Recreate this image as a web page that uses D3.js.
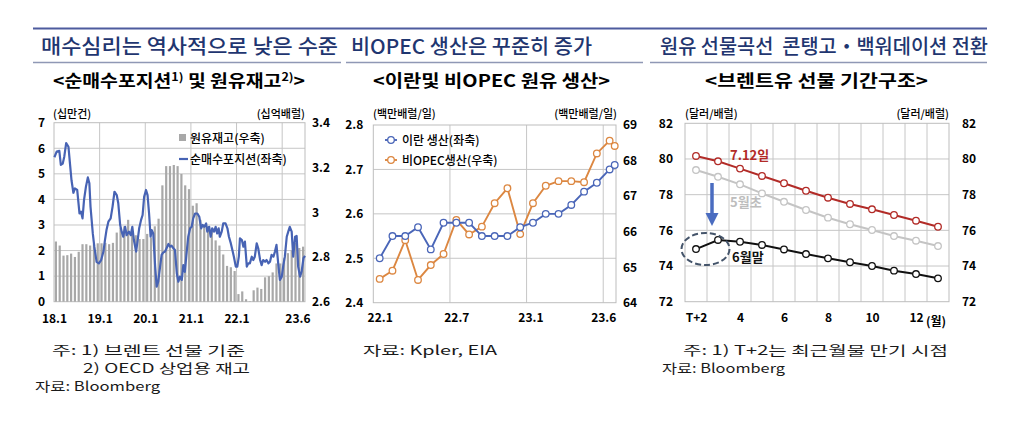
<!DOCTYPE html>
<html><head><meta charset="utf-8">
<script src="https://cdn.jsdelivr.net/npm/d3@7"></script>
<style>
body{margin:0;background:#fff}
svg{display:block}
text{font-family:"Noto Sans CJK KR","Noto Sans",sans-serif;white-space:pre}
</style>
</head><body>
<svg id="c" width="1024" height="424"></svg>
<script>
// ---------------- DATA ----------------
// Panel 1: OECD commercial crude inventory (billion bbl, right axis), monthly 2018.1 - 2023.6
const invValues = [
 2.869,2.851,2.806,2.808,2.815,2.800,2.823,2.857,2.857,2.851,2.857,2.861,
 2.861,2.863,2.857,2.863,2.909,2.931,2.937,2.966,2.926,2.897,2.880,2.880,
 2.903,2.886,2.937,2.971,3.120,3.206,3.206,3.211,3.206,3.171,3.120,3.103,
 3.029,3.040,2.966,2.943,2.937,2.914,2.874,2.851,2.811,2.760,2.754,2.737,
 2.634,2.646,2.611,2.602,2.651,2.663,2.657,2.709,2.714,2.731,2.771,2.771,
 2.794,2.817,2.829,2.863,2.840,2.846];
// Net long position (100k contracts, left axis): time in months since 2018.1
const nlT = [0.1,0.7,1.4,1.8,2.3,2.7,3.2,3.8,4.2,4.6,5.1,5.5,6.1,6.7,7.1,7.5,7.9,8.4,8.9,9.3,
 9.6,10.2,10.6,11.2,11.8,12.4,13.0,13.4,13.8,14.3,14.9,15.4,15.9,16.5,16.9,17.4,17.8,18.2,18.7,19.1,
 19.7,20.2,20.6,21.0,21.6,22.0,22.4,22.9,23.3,23.7,24.2,24.6,25.0,25.4,25.7,26.1,26.6,27.0,27.4,27.9,
 28.3,28.7,29.2,29.6,30.1,30.5,30.9,31.4,31.8,32.3,32.7,33.1,33.6,34.0,34.4,34.9,35.3,35.8,36.2,36.6,
 37.1,37.7,38.2,38.7,39.1,39.5,40.0,40.3,40.8,41.2,41.6,42.1,42.5,42.9,43.3,43.6,44.1,44.5,45.1,45.6,
 46.0,46.5,46.9,47.3,47.8,48.2,48.6,48.9,49.4,49.8,50.2,50.7,51.1,51.5,52.0,52.4,52.8,53.3,53.7,54.2,
 54.6,55.0,55.5,55.9,56.4,56.8,57.2,57.7,58.1,58.5,59.0,59.4,59.9,60.3,60.7,61.2,61.6,62.0,62.5,62.9,
 63.4,63.8,64.2,64.7,65.1,65.6,66.0];
const nlV = [5.65,5.87,5.9,5.35,5.4,5.67,6.2,6.06,5.4,4.75,4.26,4.43,4.37,3.45,3.52,3.26,3.98,4.5,4.86,4.63,
 3.72,2.67,2.15,1.56,1.5,1.63,1.96,2.41,2.8,3.13,3.26,3.72,4.3,4.17,3.85,3.0,2.74,2.54,2.93,2.6,
 2.74,2.6,2.93,2.41,1.96,2.41,2.87,3.2,3.39,4.1,4.37,4.17,3.45,2.54,2.8,2.67,1.37,0.59,0.78,1.37,
 1.83,1.92,1.96,2.09,2.26,2.15,2.19,2.09,2.02,1.1,0.78,0.98,0.85,1.43,1.17,1.96,2.54,2.87,2.93,3.26,
 3.45,3.45,3.32,2.87,3.0,2.93,3.06,2.74,2.93,2.54,2.87,2.74,2.93,2.67,2.87,2.54,2.74,3.06,3.06,2.87,
 2.54,2.28,2.02,1.76,1.37,1.37,1.76,2.48,2.41,2.15,2.35,1.37,1.5,1.5,1.76,1.63,1.76,2.28,2.09,1.63,
 1.43,1.63,1.56,1.63,1.5,1.56,1.83,1.76,1.96,2.22,1.43,0.85,0.98,1.43,1.76,2.54,2.74,2.93,2.74,1.76,
 2.54,2.57,1.37,0.98,1.17,1.7,1.79];
const p1XLabels = ["18.1","19.1","20.1","21.1","22.1","23.6"];
const p1XLabelPos = [0,12,24,36,48,64];
const p1YearLines = [12,24,36,48,60];
const p1LeftTicks = [0,1,2,3,4,5,6,7];
const p1RightTicks = [2.6,2.8,3.0,3.2,3.4];

// Panel 2: Iran production (left, mb/d) and non-OPEC production (right, mb/d), monthly from 22.1
const p2T = [0,1,2,3,4,5,6,7,8,9,10,11,12,13,14,15,16,17,18,18.4];
const iranProd = [2.50,2.55,2.55,2.57,2.52,2.58,2.58,2.58,2.55,2.55,2.55,2.57,2.58,2.60,2.60,2.62,2.65,2.67,2.70,2.71];
const nonOpecProd = [64.67,64.90,65.76,64.64,65.06,65.37,66.33,65.92,66.14,66.80,67.22,65.93,66.80,67.29,67.42,67.42,67.39,68.20,68.56,68.41];
const p2XLabels = ["22.1","22.7","23.1","23.6"];
const p2XLabelPos = [0,6,11.8,17.5];
const p2Bounds = [5.5,11.5,17.5];
const p2LeftTicks = [2.4,2.5,2.6,2.7,2.8];
const p2RightTicks = [64,65,66,67,68,69];

// Panel 3: Brent futures term structure ($/bbl), maturities T+2 .. 13
const p3Cats = ["T+2","3","4","5","6","7","8","9","10","11","12","13"];
const curveJul12 = [80.17,79.87,79.46,79.05,78.64,78.22,77.83,77.48,77.18,76.86,76.54,76.20];
const curveMayEarly = [79.38,79.00,78.58,78.07,77.60,77.14,76.71,76.34,76.02,75.68,75.42,75.12];
const curveJunEnd = [74.95,75.46,75.36,75.18,74.93,74.67,74.43,74.21,74.00,73.74,73.55,73.31];
const p3XLabels = ["T+2","4","6","8","10","12"];
const p3Ticks = [72,74,76,78,80,82];

// ---------------- DRAW ----------------
const svg = d3.select("#c");
const GRID = "#c6c6c6";

function T(x, y, s, o = {}) {
  const t = svg.append("text").attr("x", x).attr("y", y)
    .style("font-size", (o.size || 12) + "px").style("font-weight", o.w || 400)
    .attr("fill", o.c || "#000").attr("text-anchor", o.a || "start").text(s);
  if (o.len) t.attr("textLength", o.len).attr("lengthAdjust", "spacingAndGlyphs");
  return t;
}

// header rules
svg.append("line").attr("x1", 33).attr("x2", 987).attr("y1", 28.5).attr("y2", 28.5)
  .attr("stroke", "#4d5b9e").attr("stroke-width", 2);
[[33, 341], [346, 643], [650, 987]].forEach(s =>
  svg.append("line").attr("x1", s[0]).attr("x2", s[1]).attr("y1", 62.5).attr("y2", 62.5)
    .attr("stroke", "#8f98b5").attr("stroke-width", 1.3));

// titles
const TC = "#1f3670";
T(41, 54, "매수심리는 역사적으로 낮은 수준", {size: 20, w: 500, c: TC, len: 297});
T(351, 54, "비OPEC 생산은 꾸준히 증가", {size: 20, w: 500, c: TC, len: 241});
T(660, 54, "원유 선물곡선  콘탱고・백워데이션 전환", {size: 20, w: 500, c: TC, len: 328});

// subtitles
{
  const t = svg.append("text").attr("x", 53).attr("y", 87).style("font-size", "17px").style("font-weight", 700)
    .attr("textLength", 252).attr("lengthAdjust", "spacingAndGlyphs");
  t.append("tspan").text("<순매수포지션");
  t.append("tspan").attr("dy", -6).style("font-size", "11px").text("1)");
  t.append("tspan").attr("dy", 6).text(" 및 원유재고");
  t.append("tspan").attr("dy", -6).style("font-size", "11px").text("2)");
  t.append("tspan").attr("dy", 6).text(">");
}
T(373, 87, "<이란및 비OPEC 원유 생산>", {size: 17, w: 700, len: 237});
T(705, 87, "<브렌트유 선물 기간구조>", {size: 17, w: 700, len: 223});

function styleAxisText(g, anchor) {
  g.select(".domain").remove();
  g.selectAll("line").remove();
  g.selectAll("text").style("font-size", "12px").style("font-weight", 700).attr("fill", "#000");
  if (anchor) g.selectAll("text").attr("text-anchor", anchor);
}
function frame(L, R, Tp, B) {
  svg.append("rect").attr("x", L).attr("y", Tp).attr("width", R - L).attr("height", B - Tp)
    .attr("fill", "none").attr("stroke", "#bdbdbd").attr("stroke-width", 1);
}

// ===== Panel 1 =====
{
  const L = 54, R = 305, Tp = 122.7, B = 301.7;
  const x = d3.scaleLinear([0, 66], [L, R]);
  const yL = d3.scaleLinear([0, 7], [B, Tp]);
  const yR = d3.scaleLinear([2.6, 3.4], [B, Tp]);
  const gg = svg.append("g");
  gg.selectAll(".h").data(p1LeftTicks.slice(1, -1)).join("line")
    .attr("x1", L).attr("x2", R).attr("y1", d => yL(d)).attr("y2", d => yL(d)).attr("stroke", GRID);
  gg.selectAll(".v").data(p1YearLines).join("line")
    .attr("x1", d => x(d)).attr("x2", d => x(d)).attr("y1", Tp).attr("y2", B).attr("stroke", GRID);
  frame(L, R, Tp, B);
  svg.append("g").selectAll("rect").data(invValues).join("rect")
    .attr("x", (d, i) => x(i + 0.5) - 1.1).attr("width", 2.2)
    .attr("y", d => yR(d)).attr("height", d => B - yR(d)).attr("fill", "#a8a8a8");
  const line = d3.line().x(d => x(d[0])).y(d => yL(d[1]));
  svg.append("path").datum(nlT.map((t, i) => [t, nlV[i]])).attr("d", line)
    .attr("fill", "none").attr("stroke", "#4763b4").attr("stroke-width", 2.2).attr("stroke-linejoin", "round");
  svg.append("g").attr("transform", `translate(${L},0)`)
    .call(d3.axisLeft(yL).tickValues(p1LeftTicks).tickSize(0).tickPadding(9).tickFormat(d3.format("d")))
    .call(g => styleAxisText(g));
  svg.append("g").attr("transform", `translate(${R},0)`)
    .call(d3.axisRight(yR).tickValues(p1RightTicks).tickSize(0).tickPadding(7).tickFormat(d => String(+d.toFixed(1))))
    .call(g => styleAxisText(g));
  svg.append("g").attr("transform", `translate(0,${B})`)
    .call(d3.axisBottom(x).tickValues(p1XLabelPos).tickSize(0).tickPadding(13).tickFormat((d, i) => p1XLabels[i]))
    .call(g => styleAxisText(g));
  T(53, 118, "(십만건)", {size: 11, w: 500});
  T(305, 118, "(십억배럴)", {size: 11, w: 500, a: "end"});
  // legend
  svg.append("rect").attr("x", 179).attr("y", 134).attr("width", 7).attr("height", 7).attr("fill", "#a8a8a8");
  T(190, 142.5, "원유재고(우축)", {size: 12, w: 500});
  svg.append("line").attr("x1", 179).attr("x2", 188).attr("y1", 159).attr("y2", 159)
    .attr("stroke", "#4763b4").attr("stroke-width", 2.2);
  T(190, 163.5, "순매수포지션(좌축)", {size: 12, w: 500});
}

// ===== Panel 2 =====
{
  const L = 373.3, R = 616, Tp = 125, B = 302.7;
  const x = d3.scaleLinear([-0.5, 18.5], [L, R]);
  const yL = d3.scaleLinear([2.4, 2.8], [B, Tp]);
  const yR = d3.scaleLinear([64, 69], [B, Tp]);
  const gg = svg.append("g");
  gg.selectAll(".h").data(p2LeftTicks.slice(1, -1)).join("line")
    .attr("x1", L).attr("x2", R).attr("y1", d => yL(d)).attr("y2", d => yL(d)).attr("stroke", GRID);
  gg.selectAll(".v").data(p2Bounds).join("line")
    .attr("x1", d => x(d)).attr("x2", d => x(d)).attr("y1", Tp).attr("y2", B).attr("stroke", GRID);
  frame(L, R, Tp, B);
  const BL = "#4a66b8", OR = "#dc8741";
  const series = [
    {v: nonOpecProd, y: yR, c: OR},
    {v: iranProd, y: yL, c: BL}
  ];
  series.forEach(s => {
    const pts = p2T.map((t, i) => [t, s.v[i]]);
    svg.append("path").datum(pts).attr("d", d3.line().x(d => x(d[0])).y(d => s.y(d[1])))
      .attr("fill", "none").attr("stroke", s.c).attr("stroke-width", 1.9);
    svg.append("g").selectAll("circle").data(pts).join("circle")
      .attr("cx", d => x(d[0])).attr("cy", d => s.y(d[1])).attr("r", 3.3)
      .attr("fill", "#fff").attr("stroke", s.c).attr("stroke-width", 1.3);
  });
  svg.append("g").attr("transform", `translate(${L},0)`)
    .call(d3.axisLeft(yL).tickValues(p2LeftTicks).tickSize(0).tickPadding(10).tickFormat(d3.format(".1f")))
    .call(g => styleAxisText(g));
  svg.append("g").attr("transform", `translate(${R},0)`)
    .call(d3.axisRight(yR).tickValues(p2RightTicks).tickSize(0).tickPadding(7).tickFormat(d3.format("d")))
    .call(g => styleAxisText(g));
  svg.append("g").attr("transform", `translate(0,${B})`)
    .call(d3.axisBottom(x).tickValues(p2XLabelPos).tickSize(0).tickPadding(11).tickFormat((d, i) => p2XLabels[i]))
    .call(g => styleAxisText(g));
  T(373, 118, "(백만배럴/일)", {size: 11, w: 500});
  T(617, 118, "(백만배럴/일)", {size: 11, w: 500, a: "end"});
  // legend
  [[BL, 140, "이란 생산(좌축)"], [OR, 160, "비OPEC생산(우축)"]].forEach(l => {
    svg.append("line").attr("x1", 385).attr("x2", 397).attr("y1", l[1]).attr("y2", l[1])
      .attr("stroke", l[0]).attr("stroke-width", 1.9);
    svg.append("circle").attr("cx", 391).attr("cy", l[1]).attr("r", 3.3)
      .attr("fill", "#fff").attr("stroke", l[0]).attr("stroke-width", 1.3);
    T(402, l[1] + 4.5, l[2], {size: 12, w: 500});
  });
}

// ===== Panel 3 =====
{
  const L = 685, R = 949, Tp = 123.3, B = 301.7;
  const x = d3.scaleLinear([-0.5, 11.5], [L, R]);
  const y = d3.scaleLinear([72, 82], [B, Tp]);
  const gg = svg.append("g");
  gg.selectAll(".h").data(p3Ticks.slice(1, -1)).join("line")
    .attr("x1", L).attr("x2", R).attr("y1", d => y(d)).attr("y2", d => y(d)).attr("stroke", GRID);
  gg.selectAll(".v").data(d3.range(p3Cats.length - 1).map(i => i + 0.5)).join("line")
    .attr("x1", d => x(d)).attr("x2", d => x(d)).attr("y1", Tp).attr("y2", B).attr("stroke", GRID);
  frame(L, R, Tp, B);
  const series = [
    {v: curveMayEarly, c: "#c4c4c4"},
    {v: curveJul12, c: "#b22b27"},
    {v: curveJunEnd, c: "#111111"}
  ];
  series.forEach(s => {
    const pts = s.v.map((v, i) => [i, v]);
    svg.append("path").datum(pts).attr("d", d3.line().x(d => x(d[0])).y(d => y(d[1])))
      .attr("fill", "none").attr("stroke", s.c).attr("stroke-width", 2);
    svg.append("g").selectAll("circle").data(pts).join("circle")
      .attr("cx", d => x(d[0])).attr("cy", d => y(d[1])).attr("r", 3.3)
      .attr("fill", "#fff").attr("stroke", s.c).attr("stroke-width", 1.3);
  });
  svg.append("g").attr("transform", `translate(${L - 12},0)`)
    .call(d3.axisLeft(y).tickValues(p3Ticks).tickSize(0).tickPadding(0).tickFormat(d3.format("d")))
    .call(g => styleAxisText(g));
  svg.append("g").attr("transform", `translate(${R},0)`)
    .call(d3.axisRight(y).tickValues(p3Ticks).tickSize(0).tickPadding(13).tickFormat(d3.format("d")))
    .call(g => styleAxisText(g));
  svg.append("g").attr("transform", `translate(0,${B})`)
    .call(d3.axisBottom(x).tickValues(d3.range(0, 12, 2)).tickSize(0).tickPadding(12).tickFormat((d, i) => p3XLabels[i]))
    .call(g => styleAxisText(g));
  T(x(10) + 10, B + 24, "(월)", {size: 12, w: 700});
  T(685, 118, "(달러/배럴)", {size: 11, w: 500});
  T(949, 118, "(달러/배럴)", {size: 11, w: 500, a: "end"});
  // annotations
  T(730, 160, "7.12일", {size: 13, w: 700, c: "#b22b27"});
  T(730, 206.5, "5월초", {size: 13, w: 700, c: "#bdbdbd"});
  T(732, 261.5, "6월말", {size: 13, w: 700, c: "#111"});
  svg.append("line").attr("x1", 712).attr("x2", 712).attr("y1", 183).attr("y2", 215)
    .attr("stroke", "#4a6cc0").attr("stroke-width", 3.5);
  svg.append("path").attr("d", "M705.5,213 L718.5,213 L712,226 Z").attr("fill", "#4a6cc0");
  svg.append("ellipse").attr("cx", 705.5).attr("cy", 249).attr("rx", 24).attr("ry", 16)
    .attr("fill", "none").attr("stroke", "#44546a").attr("stroke-width", 2).attr("stroke-dasharray", "6,3");
}

// notes
const NC = "#1a1a1a";
T(52, 354.5, "주: 1) 브렌트 선물 기준", {size: 13, c: NC, len: 193});
T(83, 372.5, "2) OECD 상업용 재고", {size: 13, c: NC, len: 167});
T(35, 390.5, "자료: Bloomberg", {size: 13, c: NC, len: 125});
T(363, 354.5, "자료: Kpler, EIA", {size: 13, c: NC, len: 134});
T(683, 354.5, "주: 1) T+2는 최근월물 만기 시점", {size: 13, c: NC, len: 265});
T(662, 372.5, "자료: Bloomberg", {size: 13, c: NC, len: 123});
</script>
</body></html>
